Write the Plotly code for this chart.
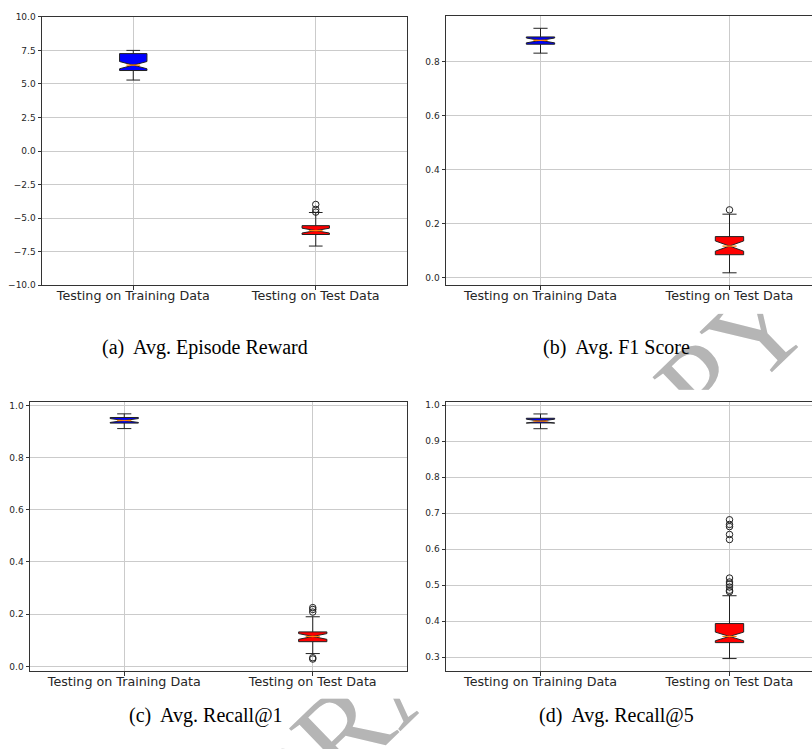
import plotly.graph_objects as go

# ---------------------------------------------------------------- data
CATEGORIES = ["Testing on Training Data", "Testing on Test Data"]
POSITIONS = [1, 2]
CAPTIONS = [
    "(a)\u00a0 Avg. Episode Reward",
    "(b)\u00a0 Avg. F1 Score",
    "(c)\u00a0 Avg. Recall@1",
    "(d)\u00a0 Avg. Recall@5",
]

# box statistics, one entry per category: [training, test]
reward_q1 = [6.00, -6.22]
reward_median = [6.40, -5.93]
reward_q3 = [7.26, -5.56]
reward_lowerfence = [5.29, -7.08]
reward_upperfence = [7.50, -4.58]
reward_notchspan = [0.27, 0.18]
reward_outliers = [[], [-3.98, -4.35, -4.55]]

f1_q1 = [0.864, 0.085]
f1_median = [0.878, 0.117]
f1_q3 = [0.891, 0.152]
f1_lowerfence = [0.831, 0.018]
f1_upperfence = [0.923, 0.235]
f1_notchspan = [0.009, 0.019]
f1_outliers = [[], [0.251]]

r1_q1 = [0.932, 0.0945]
r1_median = [0.942, 0.1145]
r1_q3 = [0.9535, 0.132]
r1_lowerfence = [0.911, 0.049]
r1_upperfence = [0.9675, 0.190]
r1_notchspan = [0.0075, 0.011]
r1_outliers = [[], [0.225, 0.218, 0.208, 0.033, 0.028]]

r5_q1 = [0.951, 0.3406]
r5_median = [0.956, 0.3578]
r5_q3 = [0.964, 0.3935]
r5_lowerfence = [0.935, 0.2963]
r5_upperfence = [0.976, 0.4709]
r5_notchspan = [0.0055, 0.012]
r5_outliers = [[], [0.682, 0.669, 0.663, 0.641, 0.627,
                    0.520, 0.509, 0.503, 0.495, 0.486, 0.482]]

# y-axis settings per panel
Y_RANGES = [[-10.0, 10.0], [-0.028, 0.969], [-0.018, 1.013], [0.2616, 1.0093]]
Y_TICK0 = [-10.0, 0.0, 0.0, 0.3]
Y_DTICK = [2.5, 0.2, 0.2, 0.1]

WATERMARK = "DRAFT COPY"

# ---------------------------------------------------------------- style
W, H = 812, 754
BOX_FILL = ["#0000ff", "#ff0000"]
EDGE = "#222222"
MEDIAN = "#ff7f0e"
SPINE = "#333333"
GRID = "#cbcbcb"
TICKTXT = "#262626"
BOX_WIDTH = 0.15
NOTCH_WIDTH = 0.5


def px_x(a, b):
    return [a / W, min(b / W, 1.0)]


def px_y(top, bottom):
    return [1 - bottom / H, 1 - top / H]


# plot areas (pixels) for the four panels: left, right, top, bottom
PANEL_BOXES = [
    (42, 407, 12, 284),
    (446, 812, 11, 284),
    (30, 407, 402.3, 675),
    (446, 812, 402.3, 675),
]
# full sub-figure rectangles (white backgrounds incl. tick labels)
FIGURE_RECTS = [
    (0, 406, 0, 313),
    (406, 812, 0, 313),
    (0, 406, 390, 703),
    (406, 812, 390, 703),
]
CAPTION_POS = [(205, 347), (616, 347), (206, 720), (616, 720)]

panels = [
    (reward_q1, reward_median, reward_q3, reward_lowerfence, reward_upperfence,
     reward_notchspan, reward_outliers),
    (f1_q1, f1_median, f1_q3, f1_lowerfence, f1_upperfence,
     f1_notchspan, f1_outliers),
    (r1_q1, r1_median, r1_q3, r1_lowerfence, r1_upperfence,
     r1_notchspan, r1_outliers),
    (r5_q1, r5_median, r5_q3, r5_lowerfence, r5_upperfence,
     r5_notchspan, r5_outliers),
]

fig = go.Figure()

# watermark layer: a full-page subplot holding rotated text
wm_cx, wm_cy = 519, 562
fig.add_trace(go.Bar(
    x=[wm_cx], y=[200], base=[wm_cy - 100], width=[300],
    marker=dict(color="rgba(0,0,0,0)", line=dict(width=0)),
    text=[WATERMARK], textposition="inside", insidetextanchor="middle",
    textangle=-44, constraintext="none",
    textfont=dict(family="Liberation Serif", size=121, color="#b5b5b5"),
    xaxis="x", yaxis="y", hoverinfo="skip", showlegend=False,
))
layout_axes = {
    "xaxis": dict(domain=[0, 1], range=[0, W], visible=False, fixedrange=True),
    "yaxis": dict(domain=[0, 1], range=[H, 0], visible=False, fixedrange=True),
}

# white sub-figure backgrounds stacked over the watermark
for k, (l, r, t, b) in enumerate(FIGURE_RECTS):
    n = k + 2
    fig.add_trace(go.Scatter(x=[None], y=[None], mode="markers",
                             xaxis=f"x{n}", yaxis=f"y{n}",
                             hoverinfo="skip", showlegend=False))
    layout_axes[f"xaxis{n}"] = dict(domain=px_x(l, r), range=[0, 1],
                                    visible=False, anchor=f"y{n}",
                                    fixedrange=True)
    layout_axes[f"yaxis{n}"] = dict(domain=px_y(t, b), range=[0, 1],
                                    visible=False, anchor=f"x{n}",
                                    fixedrange=True)

# box-plot panels
for k, (q1, med, q3, lo, hi, ns, outl) in enumerate(panels):
    n = k + 6
    xa, ya = f"x{n}", f"y{n}"
    for i, pos in enumerate(POSITIONS):
        fig.add_trace(go.Box(
            x=[pos], q1=[q1[i]], median=[med[i]], q3=[q3[i]],
            lowerfence=[lo[i]], upperfence=[hi[i]], notchspan=[ns[i]],
            notched=True, notchwidth=NOTCH_WIDTH, whiskerwidth=0.5,
            width=BOX_WIDTH, boxpoints=False,
            fillcolor=BOX_FILL[i], line=dict(color=EDGE, width=1),
            xaxis=xa, yaxis=ya, hoverinfo="skip", showlegend=False,
        ))
        half = BOX_WIDTH / 2 * (1 - NOTCH_WIDTH)
        fig.add_trace(go.Scatter(
            x=[pos - half, pos + half], y=[med[i], med[i]], mode="lines",
            line=dict(color=MEDIAN, width=1.2),
            xaxis=xa, yaxis=ya, hoverinfo="skip", showlegend=False,
        ))
        if outl[i]:
            fig.add_trace(go.Scatter(
                x=[pos] * len(outl[i]), y=outl[i], mode="markers",
                marker=dict(symbol="circle-open", size=6.5,
                            color=EDGE, line=dict(width=1, color=EDGE)),
                xaxis=xa, yaxis=ya, hoverinfo="skip", showlegend=False,
            ))

    l, r, t, b = PANEL_BOXES[k]
    right_cropped = r >= W
    if right_cropped:
        x_hi = 0.5 + (W - l) / 189.0
    else:
        x_hi = 2.5
    layout_axes[f"xaxis{n}"] = dict(
        domain=px_x(l, r), range=[0.5, x_hi], anchor=ya,
        tickmode="array", tickvals=POSITIONS, ticktext=CATEGORIES,
        showgrid=True, gridcolor=GRID, gridwidth=1, zeroline=False,
        showline=True, linecolor=SPINE, linewidth=1, mirror=True,
        ticks="outside", ticklen=3.5, tickwidth=1, tickcolor=SPINE,
        ticklabelstandoff=-5,
        tickfont=dict(family="DejaVu Sans", size=12.7, color=TICKTXT),
        fixedrange=True,
    )
    layout_axes[f"yaxis{n}"] = dict(
        domain=px_y(t, b), range=Y_RANGES[k], anchor=xa,
        tickmode="linear", tick0=Y_TICK0[k], dtick=Y_DTICK[k],
        tickformat=".1f",
        showgrid=True, gridcolor=GRID, gridwidth=1, zeroline=False,
        showline=True, linecolor=SPINE, linewidth=1,
        mirror=not right_cropped,
        ticks="outside", ticklen=3.5, tickwidth=1, tickcolor=SPINE,
        tickfont=dict(family="DejaVu Sans", size=9, color=TICKTXT),
        fixedrange=True,
    )

annotations = [
    dict(text=txt, x=cx / W, y=1 - cy / H, xref="paper", yref="paper",
         xanchor="center", yanchor="middle", showarrow=False,
         font=dict(family="Liberation Serif", size=20, color="#000000"))
    for txt, (cx, cy) in zip(CAPTIONS, CAPTION_POS)
]

fig.update_layout(
    width=W, height=H, margin=dict(l=0, r=0, t=0, b=0),
    paper_bgcolor="#ffffff", plot_bgcolor="#ffffff",
    font=dict(family="DejaVu Sans", color=TICKTXT),
    showlegend=False, boxmode="overlay",
    annotations=annotations,
    **layout_axes,
)

fig.write_html("out.html")
